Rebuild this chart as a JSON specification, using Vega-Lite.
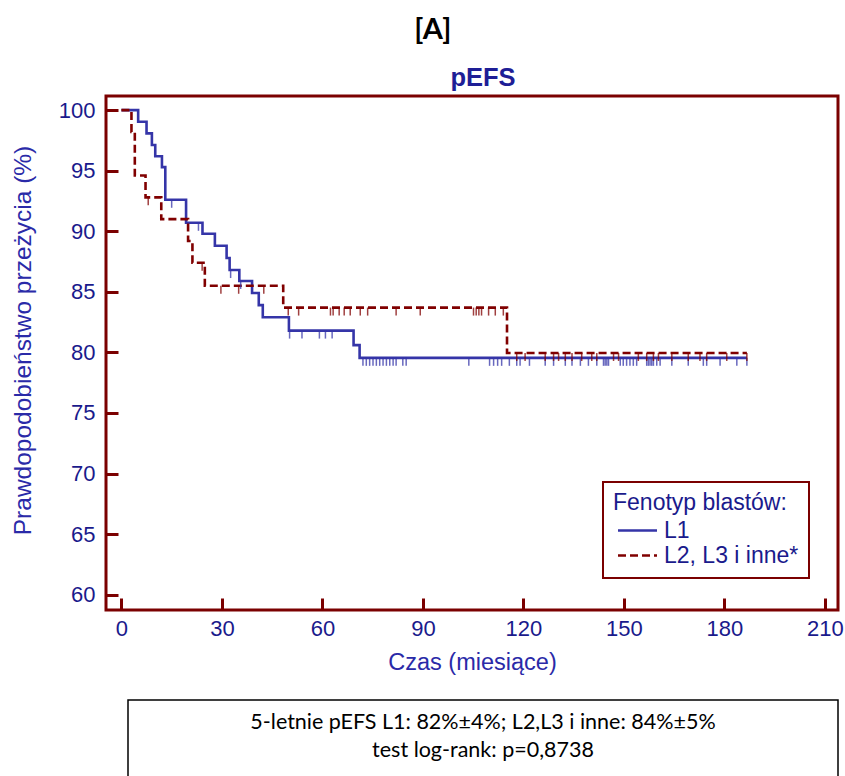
{
  "$schema": "https://vega.github.io/schema/vega-lite/v6.json",
  "padding": {"left": 8, "top": 16, "right": 5, "bottom": 5},
  "title": {"text": "[A]", "font": "Lato", "fontSize": 29, "fontWeight": "bold", "color": "black", "anchor": "middle", "dx": 6, "offset": 19},
  "spacing": 24,
  "datasets": {
    "curves": [
      {"group": "L1", "t": 0, "v": 100}, {"group": "L1", "t": 5.0, "v": 99.04}, {"group": "L1", "t": 7.5, "v": 98.08},
      {"group": "L1", "t": 9.1, "v": 97.12}, {"group": "L1", "t": 10.1, "v": 96.2}, {"group": "L1", "t": 12.1, "v": 95.3},
      {"group": "L1", "t": 13.1, "v": 92.6}, {"group": "L1", "t": 19.3, "v": 90.7}, {"group": "L1", "t": 24.2, "v": 89.8},
      {"group": "L1", "t": 27.9, "v": 88.8}, {"group": "L1", "t": 31.4, "v": 87.8}, {"group": "L1", "t": 32.3, "v": 86.8},
      {"group": "L1", "t": 35.2, "v": 85.9}, {"group": "L1", "t": 39.0, "v": 84.9}, {"group": "L1", "t": 41.0, "v": 83.9},
      {"group": "L1", "t": 42.2, "v": 82.9}, {"group": "L1", "t": 50.0, "v": 81.8}, {"group": "L1", "t": 69.3, "v": 80.6},
      {"group": "L1", "t": 71.1, "v": 79.55}, {"group": "L1", "t": 186.7, "v": 79.55},
      {"group": "L2, L3 i inne*", "t": 0, "v": 100}, {"group": "L2, L3 i inne*", "t": 3.0, "v": 98.2},
      {"group": "L2, L3 i inne*", "t": 4.0, "v": 94.6}, {"group": "L2, L3 i inne*", "t": 7.2, "v": 92.8},
      {"group": "L2, L3 i inne*", "t": 11.9, "v": 91.0}, {"group": "L2, L3 i inne*", "t": 19.9, "v": 89.2},
      {"group": "L2, L3 i inne*", "t": 21.2, "v": 87.4}, {"group": "L2, L3 i inne*", "t": 24.9, "v": 85.5},
      {"group": "L2, L3 i inne*", "t": 48.3, "v": 83.7}, {"group": "L2, L3 i inne*", "t": 115.1, "v": 79.95},
      {"group": "L2, L3 i inne*", "t": 186.7, "v": 79.95}
    ],
    "censors": [
      {"group": "L1", "t": 15.0, "v": 92.6}, {"group": "L1", "t": 23.0, "v": 90.7}, {"group": "L1", "t": 32.6, "v": 86.8},
      {"group": "L1", "t": 35.6, "v": 85.9}, {"group": "L1", "t": 50.2, "v": 81.8}, {"group": "L1", "t": 53.9, "v": 81.8},
      {"group": "L1", "t": 59.1, "v": 81.8}, {"group": "L1", "t": 60.9, "v": 81.8}, {"group": "L1", "t": 62.9, "v": 81.8},
      {"group": "L1", "t": 72.1, "v": 79.55}, {"group": "L1", "t": 73.1, "v": 79.55}, {"group": "L1", "t": 74.1, "v": 79.55},
      {"group": "L1", "t": 75.1, "v": 79.55}, {"group": "L1", "t": 76.1, "v": 79.55}, {"group": "L1", "t": 77.1, "v": 79.55},
      {"group": "L1", "t": 78.1, "v": 79.55}, {"group": "L1", "t": 79.1, "v": 79.55}, {"group": "L1", "t": 80.1, "v": 79.55},
      {"group": "L1", "t": 81.1, "v": 79.55}, {"group": "L1", "t": 82.0, "v": 79.55}, {"group": "L1", "t": 84.0, "v": 79.55},
      {"group": "L1", "t": 85.0, "v": 79.55}, {"group": "L1", "t": 103.7, "v": 79.55}, {"group": "L1", "t": 109.9, "v": 79.55},
      {"group": "L1", "t": 111.1, "v": 79.55}, {"group": "L1", "t": 112.3, "v": 79.55}, {"group": "L1", "t": 113.5, "v": 79.55},
      {"group": "L1", "t": 115.8, "v": 79.55}, {"group": "L1", "t": 118.0, "v": 79.55}, {"group": "L1", "t": 119.0, "v": 79.55},
      {"group": "L1", "t": 121.8, "v": 79.55}, {"group": "L1", "t": 126.5, "v": 79.55}, {"group": "L1", "t": 129.0, "v": 79.55},
      {"group": "L1", "t": 132.5, "v": 79.55}, {"group": "L1", "t": 134.5, "v": 79.55}, {"group": "L1", "t": 137.0, "v": 79.55},
      {"group": "L1", "t": 139.4, "v": 79.55}, {"group": "L1", "t": 141.9, "v": 79.55}, {"group": "L1", "t": 143.9, "v": 79.55},
      {"group": "L1", "t": 144.4, "v": 79.55}, {"group": "L1", "t": 144.9, "v": 79.55}, {"group": "L1", "t": 145.4, "v": 79.55},
      {"group": "L1", "t": 148.9, "v": 79.55}, {"group": "L1", "t": 149.8, "v": 79.55}, {"group": "L1", "t": 150.8, "v": 79.55},
      {"group": "L1", "t": 151.8, "v": 79.55}, {"group": "L1", "t": 152.8, "v": 79.55}, {"group": "L1", "t": 153.8, "v": 79.55},
      {"group": "L1", "t": 156.8, "v": 79.55}, {"group": "L1", "t": 157.3, "v": 79.55}, {"group": "L1", "t": 157.8, "v": 79.55},
      {"group": "L1", "t": 158.3, "v": 79.55}, {"group": "L1", "t": 158.8, "v": 79.55}, {"group": "L1", "t": 159.8, "v": 79.55},
      {"group": "L1", "t": 160.8, "v": 79.55}, {"group": "L1", "t": 164.3, "v": 79.55}, {"group": "L1", "t": 169.2, "v": 79.55},
      {"group": "L1", "t": 173.7, "v": 79.55}, {"group": "L1", "t": 174.7, "v": 79.55}, {"group": "L1", "t": 178.7, "v": 79.55},
      {"group": "L1", "t": 183.7, "v": 79.55}, {"group": "L1", "t": 186.7, "v": 79.55},
      {"group": "L2, L3 i inne*", "t": 8.0, "v": 92.8}, {"group": "L2, L3 i inne*", "t": 24.1, "v": 87.4},
      {"group": "L2, L3 i inne*", "t": 29.7, "v": 85.5}, {"group": "L2, L3 i inne*", "t": 35.0, "v": 85.5},
      {"group": "L2, L3 i inne*", "t": 42.5, "v": 85.5}, {"group": "L2, L3 i inne*", "t": 49.8, "v": 83.7},
      {"group": "L2, L3 i inne*", "t": 52.9, "v": 83.7}, {"group": "L2, L3 i inne*", "t": 62.4, "v": 83.7},
      {"group": "L2, L3 i inne*", "t": 63.2, "v": 83.7}, {"group": "L2, L3 i inne*", "t": 65.0, "v": 83.7},
      {"group": "L2, L3 i inne*", "t": 66.5, "v": 83.7}, {"group": "L2, L3 i inne*", "t": 68.3, "v": 83.7},
      {"group": "L2, L3 i inne*", "t": 71.3, "v": 83.7}, {"group": "L2, L3 i inne*", "t": 73.5, "v": 83.7},
      {"group": "L2, L3 i inne*", "t": 82.0, "v": 83.7}, {"group": "L2, L3 i inne*", "t": 89.2, "v": 83.7},
      {"group": "L2, L3 i inne*", "t": 105.1, "v": 83.7}, {"group": "L2, L3 i inne*", "t": 105.9, "v": 83.7},
      {"group": "L2, L3 i inne*", "t": 106.7, "v": 83.7}, {"group": "L2, L3 i inne*", "t": 107.5, "v": 83.7},
      {"group": "L2, L3 i inne*", "t": 109.6, "v": 83.7}, {"group": "L2, L3 i inne*", "t": 111.6, "v": 83.7},
      {"group": "L2, L3 i inne*", "t": 114.0, "v": 83.7},
      {"group": "L2, L3 i inne*", "t": 118.0, "v": 79.95}, {"group": "L2, L3 i inne*", "t": 120.5, "v": 79.95},
      {"group": "L2, L3 i inne*", "t": 126.5, "v": 79.95}, {"group": "L2, L3 i inne*", "t": 129.0, "v": 79.95},
      {"group": "L2, L3 i inne*", "t": 130.5, "v": 79.95}, {"group": "L2, L3 i inne*", "t": 132.5, "v": 79.95},
      {"group": "L2, L3 i inne*", "t": 134.5, "v": 79.95}, {"group": "L2, L3 i inne*", "t": 137.4, "v": 79.95},
      {"group": "L2, L3 i inne*", "t": 140.4, "v": 79.95}, {"group": "L2, L3 i inne*", "t": 141.9, "v": 79.95},
      {"group": "L2, L3 i inne*", "t": 146.9, "v": 79.95}, {"group": "L2, L3 i inne*", "t": 148.4, "v": 79.95},
      {"group": "L2, L3 i inne*", "t": 154.3, "v": 79.95}, {"group": "L2, L3 i inne*", "t": 156.8, "v": 79.95},
      {"group": "L2, L3 i inne*", "t": 158.8, "v": 79.95}, {"group": "L2, L3 i inne*", "t": 160.3, "v": 79.95},
      {"group": "L2, L3 i inne*", "t": 164.3, "v": 79.95}, {"group": "L2, L3 i inne*", "t": 169.2, "v": 79.95},
      {"group": "L2, L3 i inne*", "t": 172.7, "v": 79.95}, {"group": "L2, L3 i inne*", "t": 174.7, "v": 79.95},
      {"group": "L2, L3 i inne*", "t": 180.7, "v": 79.95}, {"group": "L2, L3 i inne*", "t": 186.7, "v": 79.95}
    ],
    "note": [{"label": "5-letnie pEFS L1: 82%±4%; L2,L3 i inne: 84%±5%\ntest log-rank: p=0,8738"}]
  },
  "vconcat": [
    {
      "width": 732,
      "height": 514,
      "title": {"text": "pEFS", "font": "Liberation Sans", "fontSize": 25.5, "fontWeight": "bold", "color": "#1e1e96", "anchor": "middle", "dx": 11, "offset": 5},
      "view": {"stroke": "#7b0000", "strokeWidth": 3},
      "layer": [
        {
          "data": {"name": "curves"},
          "mark": {"type": "line", "interpolate": "step-after", "strokeWidth": 2.6},
          "encoding": {
            "x": {"field": "t", "type": "quantitative", "scale": {"domain": [-4.6, 213.9], "nice": false, "zero": false},
                  "axis": {"values": [0, 30, 60, 90, 120, 150, 180, 210], "title": "Czas (miesiące)", "titleFontSize": 23.5, "labelPadding": 20, "titlePadding": 11}},
            "y": {"field": "v", "type": "quantitative", "scale": {"domain": [58.73, 101.17], "nice": false, "zero": false},
                  "axis": {"values": [60, 65, 70, 75, 80, 85, 90, 95, 100], "title": "Prawdopodobieństwo przeżycia (%)", "titleFontSize": 24.5, "titleY": 244, "labelPadding": 23, "titlePadding": 23}},
            "color": {"field": "group", "type": "nominal", "title": "Fenotyp blastów:",
                      "scale": {"domain": ["L1", "L2, L3 i inne*"], "range": ["#3535a8", "#800000"]},
                      "legend": {"symbolType": "M-1,0H5", "symbolSize": 169, "symbolStrokeWidth": 2.5, "labelOffset": 28}},
            "strokeDash": {"field": "group", "type": "nominal", "title": "Fenotyp blastów:",
                      "scale": {"domain": ["L1", "L2, L3 i inne*"], "range": [[1, 0], [8, 4]]},
                      "legend": {"symbolType": "M-1,0H5", "symbolSize": 169, "symbolStrokeWidth": 2.5, "labelOffset": 28}}
          }
        },
        {
          "data": {"name": "censors"},
          "mark": {"type": "tick", "orient": "vertical", "size": 8, "thickness": 1.5, "yOffset": 4, "opacity": 0.75},
          "encoding": {
            "x": {"field": "t", "type": "quantitative"},
            "y": {"field": "v", "type": "quantitative"},
            "color": {"field": "group", "type": "nominal", "legend": null}
          }
        }
      ]
    },
    {
      "spacing": 10,
      "hconcat": [
        {
          "width": 11,
          "height": 90,
          "view": {"stroke": null},
          "data": {"values": []},
          "mark": "text"
        },
        {
          "width": 710,
          "height": 90,
          "view": {"stroke": "black", "strokeWidth": 1.5},
          "data": {"name": "note"},
          "mark": {"type": "text", "font": "Lato", "fontSize": 21.5, "color": "black", "lineBreak": "\n", "lineHeight": 28, "dy": -22, "align": "center", "baseline": "middle"},
          "encoding": {"text": {"field": "label"}}
        }
      ]
    }
  ],
  "config": {
    "view": {"stroke": null},
    "axis": {
      "domain": false, "grid": false, "ticks": true, "tickColor": "#7b0000", "tickWidth": 3, "tickSize": -12,
      "labelFont": "Liberation Sans", "labelFontSize": 22, "labelColor": "#1a1a8c",
      "titleFont": "Liberation Sans", "titleFontSize": 22, "titleFontWeight": "normal", "titleColor": "#2a2aa8"
    },
    "legend": {
      "orient": "none", "legendX": 497, "legendY": 386,
      "titleFont": "Liberation Sans", "titleFontSize": 23, "titleFontWeight": "normal", "titleColor": "#1a1a8c", "titlePadding": 4, "titleLimit": 400,
      "labelFont": "Liberation Sans", "labelFontSize": 23, "labelColor": "#1a1a8c", "labelLimit": 400,
      "padding": 10, "rowPadding": 1, "strokeColor": "#7b0000", "fillColor": "white", "strokeWidth": 2
    }
  }
}
